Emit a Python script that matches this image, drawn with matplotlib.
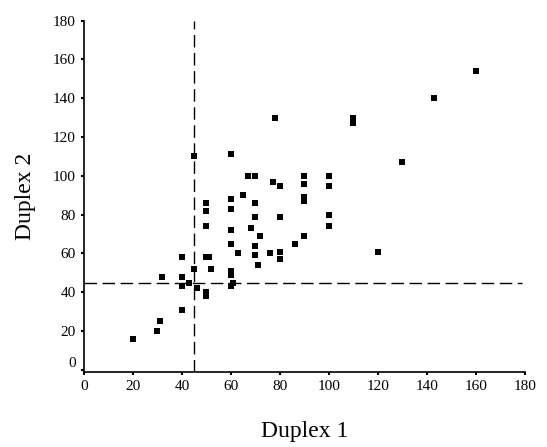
import matplotlib

matplotlib.use('Agg')
import matplotlib.pyplot as plt
from matplotlib.transforms import ScaledTranslation

plt.rcParams['font.family'] = ['Liberation Serif', 'DejaVu Serif']

# paired measurements, duplex 1 vs duplex 2
duplex1 = [20, 30, 31, 32, 40, 40, 40, 40, 43, 45, 45, 46, 50, 50, 50, 51, 50, 50, 50,
           52, 60, 60, 60, 61, 60, 60, 60, 60, 60, 63, 65, 67, 68, 70, 70, 70, 70, 70,
           71, 72, 76, 77, 78, 80, 80, 80, 80, 86, 90, 90, 90, 90, 90, 100, 100, 100,
           100, 110, 110, 120, 130, 143, 160]
duplex2 = [16, 20, 25, 48, 31, 43, 48, 58, 45, 52, 110, 42, 38, 40, 58, 58, 74, 82, 86,
           52, 43, 49, 51, 45, 65, 72, 83, 88, 111, 60, 90, 100, 73, 59, 64, 79, 86, 100,
           54, 69, 60, 97, 130, 57, 61, 79, 95, 65, 69, 87, 89, 96, 100, 74, 80, 95,
           100, 127, 130, 61, 107, 140, 154]
cutoff = 45
ticks = list(range(0, 181, 20))

fig = plt.figure(figsize=(5.47, 4.47), dpi=100)
ax = fig.add_axes([0.1536, 0.168, 0.806, 0.786])

ax.plot(duplex1, duplex2, 's', color='black', markersize=3.8, markeredgewidth=0)
ax.plot([cutoff, cutoff], [-1, 180], color='black', lw=1.0, dashes=(9, 4))
ax.plot([0, 179], [cutoff, cutoff], color='black', lw=1.0, dashes=(9, 4))

ax.set_xlim(0, 180)
ax.set_ylim(-1, 180)
ax.set_xticks(ticks)
ax.set_yticks(ticks)
ax.tick_params(direction='out', length=2, width=1.5, labelsize=11, pad=4)
for side in ('top', 'right'):
    ax.spines[side].set_visible(False)
for side in ('left', 'bottom'):
    ax.spines[side].set_linewidth(1.2)

# lift the zero label on the y axis clear of the x axis
zero = ax.get_yticklabels()[0]
zero.set_transform(zero.get_transform() + ScaledTranslation(0, 0.08, fig.dpi_scale_trans))

ax.set_xlabel('Duplex 1', fontsize=17, labelpad=20)
ax.set_ylabel('Duplex 2', fontsize=17, labelpad=12)

fig.savefig('out.png', dpi=100)
